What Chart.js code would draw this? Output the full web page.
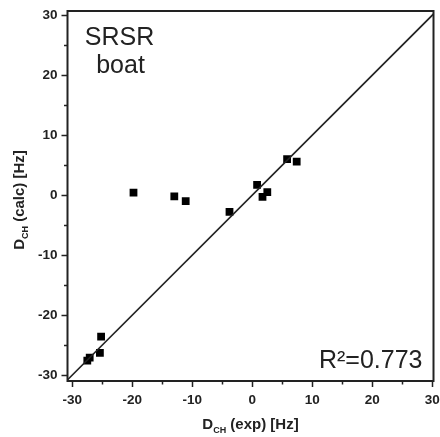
<!DOCTYPE html>
<html>
<head>
<meta charset="utf-8">
<script src="https://cdn.jsdelivr.net/npm/chart.js@4.4.0/dist/chart.umd.min.js"></script>
<style>
    html, body { margin: 0; padding: 0; background: #fff; }
</style>
</head>
<body>
<canvas id="chart" width="440" height="437"></canvas>
<script>
// measured points: D_CH exp vs calc
const expValues  = [-27.5, -27.1, -25.4, -25.2, -19.8, -13.0, -11.1, -3.8, 0.8, 1.7, 2.5, 5.8, 7.4];
const calcValues = [-27.6, -27.1, -26.3, -23.6, 0.4, -0.2, -1.0, -2.8, 1.7, -0.3, 0.5, 6.0, 5.6];

// y = x reference line
const lineX = [-31, 31];
const lineY = [-31, 31];

const majorTicks = [-30, -20, -10, 0, 10, 20, 30];
const minorTicks = [-25, -15, -5, 5, 15, 25];

const xRange = [-30.8, 30.2];
const yRange = [-31, 30.7];

const FONT = '"Liberation Sans", Arial, Helvetica, sans-serif';
const INK = '#222';

function drawTitle(ctx, parts) {
    // parts: [text, size, dy]
    let total = 0;
    parts.forEach(p => {
        ctx.font = 'bold ' + p[1] + 'px ' + FONT;
        total += ctx.measureText(p[0]).width;
    });
    let x = -total / 2;
    parts.forEach(p => {
        ctx.font = 'bold ' + p[1] + 'px ' + FONT;
        ctx.fillText(p[0], x, p[2]);
        x += ctx.measureText(p[0]).width;
    });
}

// drop the extra room chart.js keeps for edge labels
function noPadding(s) {
    s.paddingTop = 0;
    s.paddingBottom = 0;
    s.paddingLeft = 0;
    s.paddingRight = 0;
}

const decorations = {
    id: 'decorations',
    afterDraw(chart) {
        const ctx = chart.ctx;
        const a = chart.chartArea;
        const xs = chart.scales.x;
        const ys = chart.scales.y;
        ctx.save();
        ctx.strokeStyle = INK;
        ctx.fillStyle = INK;

        // frame
        ctx.lineWidth = 2;
        ctx.strokeRect(a.left, a.top, a.right - a.left, a.bottom - a.top);

        // outward ticks
        ctx.lineWidth = 1.5;
        ctx.beginPath();
        majorTicks.forEach(v => {
            const px = Math.round(xs.getPixelForValue(v)) + 0.5;
            ctx.moveTo(px, a.bottom); ctx.lineTo(px, a.bottom + 6);
            const py = Math.round(ys.getPixelForValue(v)) + 0.5;
            ctx.moveTo(a.left, py); ctx.lineTo(a.left - 6, py);
        });
        minorTicks.forEach(v => {
            const px = Math.round(xs.getPixelForValue(v)) + 0.5;
            ctx.moveTo(px, a.bottom); ctx.lineTo(px, a.bottom + 3.5);
            const py = Math.round(ys.getPixelForValue(v)) + 0.5;
            ctx.moveTo(a.left, py); ctx.lineTo(a.left - 3.5, py);
        });
        ctx.stroke();

        // axis titles
        ctx.textBaseline = 'alphabetic';
        ctx.textAlign = 'left';
        ctx.save();
        ctx.translate((a.left + a.right) / 2, 429);
        drawTitle(ctx, [['D', 15, 0], ['CH', 9, 4], [' (exp) [Hz]', 15, 0]]);
        ctx.restore();

        ctx.save();
        ctx.translate(24, 200);
        ctx.rotate(-Math.PI / 2);
        drawTitle(ctx, [['D', 15, 0], ['CH', 9, 4], [' (calc) [Hz]', 15, 0]]);
        ctx.restore();

        // labels inside plot
        ctx.font = '25px ' + FONT;
        ctx.textAlign = 'center';
        ctx.fillText('SRSR', a.left + 52, a.top + 34);
        ctx.fillText('boat', a.left + 53, a.top + 62);
        ctx.textAlign = 'right';
        ctx.fillText('R\u00B2=0.773', a.right - 11, a.bottom - 13);

        ctx.restore();
    }
};

const tickFont = { family: FONT, size: 13.5, weight: 'bold' };

new Chart(document.getElementById('chart'), {
    type: 'scatter',
    data: {
        datasets: [
            {
                label: 'fit',
                type: 'line',
                data: lineX.map((x, i) => ({ x: x, y: lineY[i] })),
                borderColor: INK,
                borderWidth: 1.6,
                pointRadius: 0,
                fill: false
            },
            {
                label: 'DCH',
                data: expValues.map((x, i) => ({ x: x, y: calcValues[i] })),
                pointStyle: 'rect',
                pointRadius: 5.5,
                backgroundColor: '#000',
                borderColor: '#000',
                borderWidth: 0
            }
        ]
    },
    options: {
        responsive: false,
        animation: false,
        layout: { padding: { top: 11, right: 6.5, left: 0, bottom: 0 } },
        plugins: {
            legend: { display: false },
            tooltip: { enabled: false }
        },
        scales: {
            x: {
                type: 'linear',
                min: xRange[0],
                max: xRange[1],
                afterBuildTicks: s => { s.ticks = majorTicks.map(v => ({ value: v })); },
                afterFit: s => { s.height = 56; noPadding(s); },
                grid: { display: false, drawTicks: false },
                border: { display: false },
                ticks: { font: tickFont, color: INK, padding: 11, maxRotation: 0 }
            },
            y: {
                type: 'linear',
                min: yRange[0],
                max: yRange[1],
                afterBuildTicks: s => { s.ticks = majorTicks.map(v => ({ value: v })); },
                afterFit: s => { s.width = 67.5; noPadding(s); },
                grid: { display: false, drawTicks: false },
                border: { display: false },
                ticks: { font: tickFont, color: INK, padding: 10 }
            }
        }
    },
    plugins: [decorations]
});
</script>
</body>
</html>
